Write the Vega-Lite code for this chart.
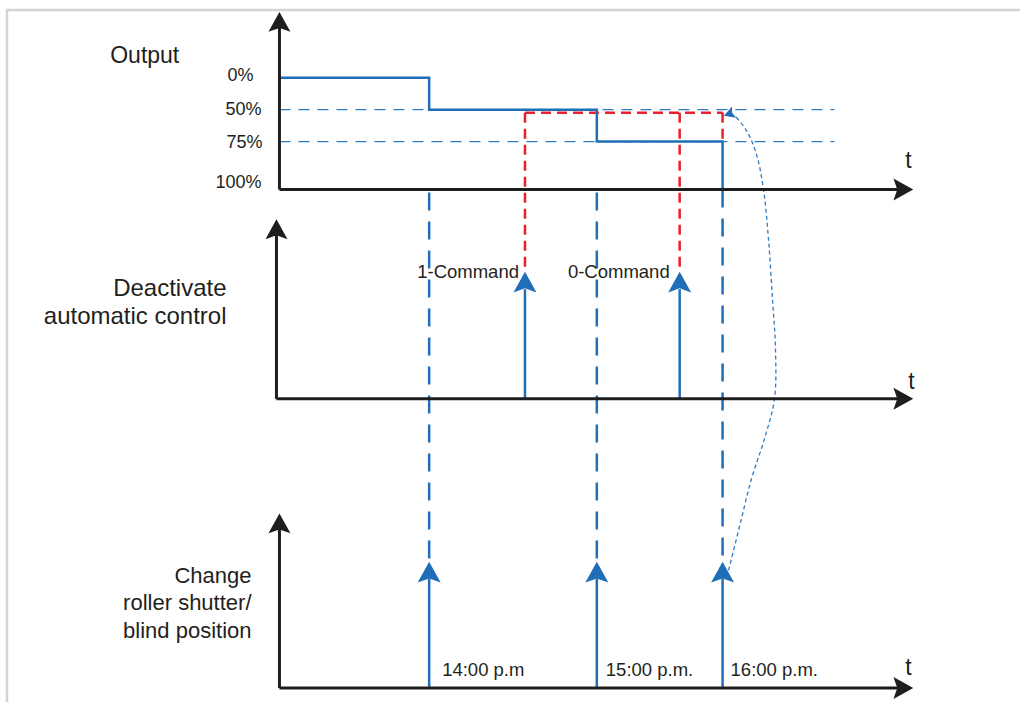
{
  "$schema": "https://vega.github.io/schema/vega-lite/v6.json",
  "width": 1022,
  "height": 704,
  "autosize": {"type": "fit", "contains": "padding"},
  "padding": 0,
  "background": "white",
  "config": {"view": {"stroke": null}},
  "datasets": {
    "frame": [
      {"x": 6, "y": 10, "x2": 1022, "y2": 10},
      {"x": 7, "y": 10, "x2": 7, "y2": 704}
    ],
    "axes": [
      {"x": 280, "y": 190, "x2": 280, "y2": 26},
      {"x": 280, "y": 190, "x2": 902, "y2": 190},
      {"x": 277, "y": 400, "x2": 277, "y2": 234},
      {"x": 277, "y": 400, "x2": 902, "y2": 400},
      {"x": 280, "y": 690, "x2": 280, "y2": 530},
      {"x": 280, "y": 690, "x2": 902, "y2": 690}
    ],
    "guides": [
      {"x": 280, "y": 110, "x2": 836, "y2": 110},
      {"x": 280, "y": 142, "x2": 836, "y2": 142}
    ],
    "drops": [
      {"x": 430, "y": 193, "x2": 430, "y2": 562},
      {"x": 598, "y": 193, "x2": 598, "y2": 562},
      {"x": 724, "y": 190, "x2": 724, "y2": 562}
    ],
    "red": [
      {"x": 526, "y": 113, "x2": 526, "y2": 268},
      {"x": 526, "y": 113, "x2": 724, "y2": 113},
      {"x": 724, "y": 113, "x2": 724, "y2": 142},
      {"x": 681, "y": 113, "x2": 681, "y2": 268}
    ],
    "shafts": [
      {"x": 526, "y": 400, "x2": 526, "y2": 290},
      {"x": 681, "y": 400, "x2": 681, "y2": 290},
      {"x": 430, "y": 690, "x2": 430, "y2": 580},
      {"x": 598, "y": 690, "x2": 598, "y2": 580},
      {"x": 724, "y": 690, "x2": 724, "y2": 580}
    ],
    "step": [
      {"i": 0, "x": 280, "y": 78},
      {"i": 1, "x": 430, "y": 78},
      {"i": 2, "x": 430, "y": 110},
      {"i": 3, "x": 598, "y": 110},
      {"i": 4, "x": 598, "y": 142},
      {"i": 5, "x": 724, "y": 142},
      {"i": 6, "x": 724, "y": 190}
    ],
    "curve": [
      {"i": 0, "x": 730, "y": 572},
      {"i": 1, "x": 741, "y": 528},
      {"i": 2, "x": 753, "y": 480},
      {"i": 3, "x": 766, "y": 440},
      {"i": 4, "x": 776, "y": 400},
      {"i": 5, "x": 777, "y": 350},
      {"i": 6, "x": 774, "y": 300},
      {"i": 7, "x": 770, "y": 240},
      {"i": 8, "x": 765, "y": 190},
      {"i": 9, "x": 758, "y": 155},
      {"i": 10, "x": 748, "y": 131},
      {"i": 11, "x": 737, "y": 117}
    ],
    "blueHeads": [
      {"x": 526, "y": 284},
      {"x": 681, "y": 284},
      {"x": 430, "y": 575},
      {"x": 598, "y": 575},
      {"x": 724, "y": 575}
    ],
    "upHeads": [
      {"x": 280, "y": 23},
      {"x": 277, "y": 231},
      {"x": 280, "y": 526}
    ],
    "rightHeads": [
      {"x": 904, "y": 190},
      {"x": 904, "y": 400},
      {"x": 904, "y": 690}
    ],
    "curveHead": [{"x": 731, "y": 114}],
    "titleText": [{"x": 145, "y": 56, "label": "Output"}],
    "pctText": [
      {"x": 228, "y": 76, "label": "0%"},
      {"x": 226, "y": 110, "label": "50%"},
      {"x": 227, "y": 143, "label": "75%"},
      {"x": 216, "y": 184, "label": "100%"}
    ],
    "deactText": [
      {"x": 227, "y": 290, "label": "Deactivate"},
      {"x": 227, "y": 318, "label": "automatic control"}
    ],
    "changeText": [
      {"x": 252, "y": 578, "label": "Change"},
      {"x": 252, "y": 605, "label": "roller shutter/"},
      {"x": 252, "y": 633, "label": "blind position"}
    ],
    "smallText": [
      {"x": 418, "y": 273, "label": "1-Command"},
      {"x": 569, "y": 273, "label": "0-Command"},
      {"x": 443, "y": 672, "label": "14:00 p.m"},
      {"x": 607, "y": 672, "label": "15:00 p.m."},
      {"x": 732, "y": 672, "label": "16:00 p.m."}
    ],
    "tText": [
      {"x": 907, "y": 161, "label": "t"},
      {"x": 910, "y": 383, "label": "t"},
      {"x": 907, "y": 670, "label": "t"}
    ]
  },
  "encoding": {
    "x": {"field": "x", "type": "quantitative", "scale": {"domain": [0, 1022], "nice": false, "zero": false}, "axis": null},
    "y": {"field": "y", "type": "quantitative", "scale": {"domain": [0, 704], "nice": false, "zero": false, "reverse": true}, "axis": null}
  },
  "layer": [
    {"data": {"name": "frame"}, "mark": {"type": "rule", "stroke": "#d3d3d3", "strokeWidth": 2.5}, "encoding": {"x2": {"field": "x2"}, "y2": {"field": "y2"}}},
    {"data": {"name": "guides"}, "mark": {"type": "rule", "stroke": "#2f7bc4", "strokeWidth": 1.3, "strokeDash": [11, 8]}, "encoding": {"x2": {"field": "x2"}, "y2": {"field": "y2"}}},
    {"data": {"name": "drops"}, "mark": {"type": "rule", "stroke": "#1f6eb7", "strokeWidth": 2.5, "strokeDash": [18, 11]}, "encoding": {"x2": {"field": "x2"}, "y2": {"field": "y2"}}},
    {"data": {"name": "red"}, "mark": {"type": "rule", "stroke": "#e8202a", "strokeWidth": 2.5, "strokeDash": [10, 6]}, "encoding": {"x2": {"field": "x2"}, "y2": {"field": "y2"}}},
    {"data": {"name": "step"}, "mark": {"type": "line", "stroke": "#1f6eb7", "strokeWidth": 2.5}, "encoding": {"order": {"field": "i", "type": "quantitative"}}},
    {"data": {"name": "shafts"}, "mark": {"type": "rule", "stroke": "#1f6eb7", "strokeWidth": 2.5}, "encoding": {"x2": {"field": "x2"}, "y2": {"field": "y2"}}},
    {"data": {"name": "curve"}, "mark": {"type": "line", "stroke": "#2f7bc4", "strokeWidth": 1.3, "strokeDash": [4, 3], "interpolate": "catmull-rom"}, "encoding": {"order": {"field": "i", "type": "quantitative"}}},
    {"data": {"name": "axes"}, "mark": {"type": "rule", "stroke": "#1e1e1e", "strokeWidth": 3}, "encoding": {"x2": {"field": "x2"}, "y2": {"field": "y2"}}},
    {"data": {"name": "blueHeads"}, "mark": {"type": "point", "shape": "M0,-1L1,0.8L0,0.45L-1,0.8Z", "size": 529, "filled": true, "fill": "#1f6eb7", "opacity": 1, "strokeWidth": 0}},
    {"data": {"name": "upHeads"}, "mark": {"type": "point", "shape": "M0,-1L1,0.8L0,0.45L-1,0.8Z", "size": 484, "filled": true, "fill": "#1e1e1e", "opacity": 1, "strokeWidth": 0}},
    {"data": {"name": "rightHeads"}, "mark": {"type": "point", "shape": "M0,-1L1,0.8L0,0.45L-1,0.8Z", "size": 484, "angle": 90, "filled": true, "fill": "#1e1e1e", "opacity": 1, "strokeWidth": 0}},
    {"data": {"name": "curveHead"}, "mark": {"type": "point", "shape": "M0,-1L1,0.8L0,0.45L-1,0.8Z", "size": 144, "angle": -110, "filled": true, "fill": "#1f6eb7", "opacity": 1, "strokeWidth": 0}},
    {"data": {"name": "titleText"}, "mark": {"type": "text", "font": "Liberation Sans", "fontSize": 23, "align": "center", "baseline": "middle", "color": "#231f20"}, "encoding": {"text": {"field": "label"}}},
    {"data": {"name": "pctText"}, "mark": {"type": "text", "font": "Liberation Sans", "fontSize": 18, "align": "left", "baseline": "middle", "color": "#231f20"}, "encoding": {"text": {"field": "label"}}},
    {"data": {"name": "deactText"}, "mark": {"type": "text", "font": "Liberation Sans", "fontSize": 24, "align": "right", "baseline": "middle", "color": "#231f20"}, "encoding": {"text": {"field": "label"}}},
    {"data": {"name": "changeText"}, "mark": {"type": "text", "font": "Liberation Sans", "fontSize": 22, "align": "right", "baseline": "middle", "color": "#231f20"}, "encoding": {"text": {"field": "label"}}},
    {"data": {"name": "smallText"}, "mark": {"type": "text", "font": "Liberation Sans", "fontSize": 18.5, "align": "left", "baseline": "middle", "color": "#231f20"}, "encoding": {"text": {"field": "label"}}},
    {"data": {"name": "tText"}, "mark": {"type": "text", "font": "Liberation Sans", "fontSize": 23, "align": "left", "baseline": "middle", "color": "#231f20"}, "encoding": {"text": {"field": "label"}}}
  ]
}
